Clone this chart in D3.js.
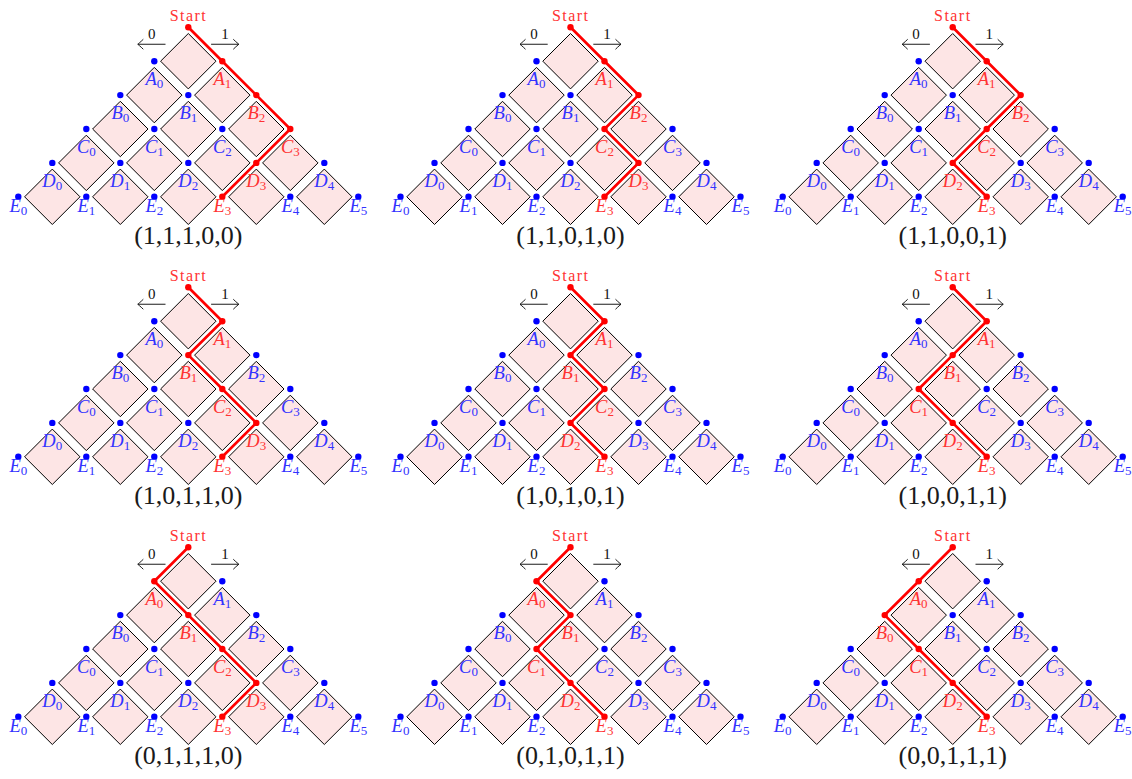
<!DOCTYPE html>
<html>
<head>
<meta charset="utf-8">
<script src="https://cdn.jsdelivr.net/npm/d3@7"></script>
<style>
  body { margin: 0; background: #fff; }
  svg text { font-family: "Liberation Serif", "Times New Roman", serif; }
</style>
</head>
<body>
<svg id="chart" width="1132" height="779"></svg>
<script>
// one bit sequence per panel: 1 = step right, 0 = step left
var sequences = [
  [1, 1, 1, 0, 0], [1, 1, 0, 1, 0], [1, 1, 0, 0, 1],
  [1, 0, 1, 1, 0], [1, 0, 1, 0, 1], [1, 0, 0, 1, 1],
  [0, 1, 1, 1, 0], [0, 1, 0, 1, 1], [0, 0, 1, 1, 1]
];
var levelNames = ["Start", "A", "B", "C", "D", "E"];
var dirLabels = ["0", "1"];
var captions = sequences.map(function(s) { return "(" + s.join(",") + ")"; });

var blue = "#0000ff", blueText = "#3333ff";
var red = "#ff0000", redText = "#ff3333";

var svg = d3.select("#chart");

// panel grid -> start node position
var panelX = d3.scaleLinear().domain([0, 2]).range([188.3, 952.7]);
var panelY = d3.scaleLinear().domain([0, 2]).range([27.3, 547.3]);
// lattice coords: u = 2*idx - level, v = level
var ux = d3.scaleLinear().domain([-5, 5]).range([-170, 170]);
var vy = d3.scaleLinear().domain([0, 5]).range([0, 169.5]);
var half = 27.7;

var nLevels = levelNames.length - 1;

var cells = [];
for (var r = 0; r < nLevels; r++) {
  for (var k = 0; k <= r; k++) cells.push({u: 2 * k - r, v: r + 1});
}
var nodes = [];
for (var L = 1; L <= nLevels; L++) {
  for (var i = 0; i <= L; i++) nodes.push({level: L, idx: i, u: 2 * i - L, v: L});
}

function arrowHead(tx, ty, dir) {
  var b = tx - dir * 5.5;
  return "M" + b + "," + (ty - 5) +
    " C" + (tx - dir * 2.5) + "," + (ty - 2) + " " + (tx - dir * 0.6) + "," + (ty - 0.6) + " " + tx + "," + ty +
    " C" + (tx - dir * 0.6) + "," + (ty + 0.6) + " " + (tx - dir * 2.5) + "," + (ty + 2) + " " + b + "," + (ty + 5);
}

sequences.forEach(function(seq, p) {
  var col = p % 3, row = Math.floor(p / 3);
  var g = svg.append("g")
    .attr("transform", "translate(" + panelX(col) + "," + panelY(row) + ")");

  // which idx the path sits at on each level
  var pathIdx = [0];
  seq.forEach(function(b, j) { pathIdx.push(pathIdx[j] + b); });
  var onPath = function(d) { return pathIdx[d.level] === d.idx; };

  g.selectAll("path.cell")
    .data(cells)
    .enter().append("path")
    .attr("class", "cell")
    .attr("d", function(d) {
      var cx = ux(d.u), cy = vy(d.v);
      return "M" + cx + "," + (cy - half) + "L" + (cx + half) + "," + cy +
        "L" + cx + "," + (cy + half) + "L" + (cx - half) + "," + cy + "Z";
    })
    .attr("fill", "#fde5e5")
    .attr("stroke", "#000")
    .attr("stroke-width", 1);

  // direction arrows
  [[-1, 0], [1, 1]].forEach(function(a) {
    var dir = a[0];
    var x0 = dir * 22.8, x1 = dir * 50.5, y = vy(0.5);
    g.append("line")
      .attr("x1", x0).attr("y1", y).attr("x2", x1).attr("y2", y)
      .attr("stroke", "#000").attr("stroke-width", 0.9);
    g.append("path")
      .attr("d", arrowHead(x1, y, dir))
      .attr("fill", "none").attr("stroke", "#000").attr("stroke-width", 0.9);
    g.append("text")
      .attr("x", dir * 36.6).attr("y", y - 5)
      .attr("text-anchor", "middle")
      .attr("font-family", "Liberation Serif")
      .attr("font-size", 15)
      .attr("fill", "#111")
      .text(dirLabels[a[1]]);
  });

  // red path
  var line = d3.line()
    .x(function(d, j) { return ux(2 * d - j); })
    .y(function(d, j) { return vy(j); });
  g.append("path")
    .attr("d", line(pathIdx))
    .attr("fill", "none")
    .attr("stroke", red)
    .attr("stroke-width", 2.7)
    .attr("stroke-linejoin", "miter");

  // nodes
  g.selectAll("circle.node")
    .data(nodes)
    .enter().append("circle")
    .attr("cx", function(d) { return ux(d.u); })
    .attr("cy", function(d) { return vy(d.v); })
    .attr("r", 3.2)
    .attr("fill", function(d) { return onPath(d) ? red : blue; });

  g.append("circle").attr("cx", ux(0)).attr("cy", vy(0)).attr("r", 3.2).attr("fill", red);

  var lab = g.selectAll("text.lab")
    .data(nodes)
    .enter().append("text")
    .attr("class", "lab")
    .attr("x", function(d) { return ux(d.u); })
    .attr("y", function(d) { return vy(d.v) + (d.level === nLevels ? 15.5 : 24); })
    .attr("text-anchor", "middle")
    .attr("font-family", "Liberation Serif")
    .attr("fill", function(d) { return onPath(d) ? redText : blueText; });
  lab.append("tspan")
    .attr("font-style", "italic")
    .attr("font-size", 18.5)
    .text(function(d) { return levelNames[d.level]; });
  lab.append("tspan")
    .attr("font-size", 13)
    .attr("dy", 3)
    .text(function(d) { return d.idx; });

  g.append("text")
    .attr("x", ux(0) - 0.6).attr("y", vy(0) - 6.3)
    .attr("text-anchor", "middle")
    .attr("font-family", "Liberation Serif")
    .attr("font-size", 16)
    .attr("textLength", 36)
    .attr("lengthAdjust", "spacing")
    .attr("fill", redText)
    .text(levelNames[0]);

  g.append("text")
    .attr("x", 0).attr("y", vy(nLevels) + 47.3)
    .attr("text-anchor", "middle")
    .attr("font-family", "Liberation Serif")
    .attr("font-size", 26)
    .attr("fill", "#1a1a1a")
    .text(captions[p]);
});
</script>
</body>
</html>
